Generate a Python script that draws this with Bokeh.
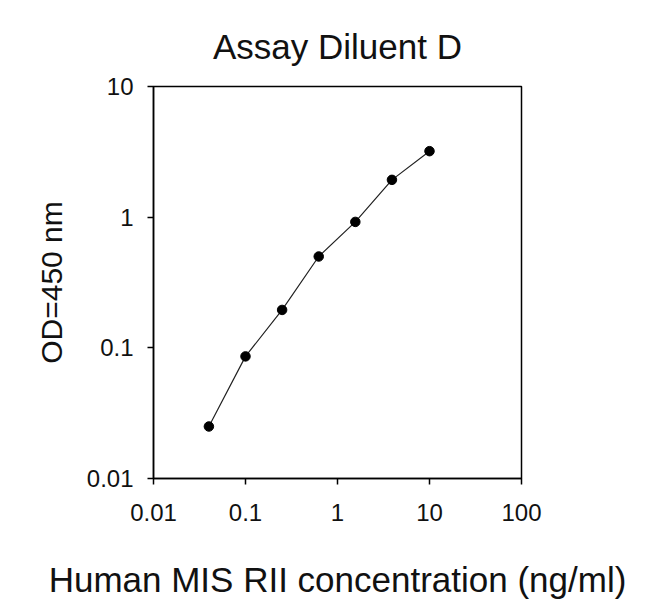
from bokeh.plotting import figure
from bokeh.models import FixedTicker, Range1d
from bokeh.embed import file_html
from bokeh.resources import INLINE

# Data
conc = [0.04, 0.1, 0.25, 0.625, 1.5625, 3.906, 10.0]
od = [0.025, 0.086, 0.195, 0.50, 0.92, 1.93, 3.2]

x_ticks = [0.01, 0.1, 1, 10, 100]
x_tick_labels = ["0.01", "0.1", "1", "10", "100"]
y_ticks = [0.01, 0.1, 1, 10]
y_tick_labels = ["0.01", "0.1", "1", "10"]

title_text = "Assay Diluent D"
x_label = "Human MIS RII concentration (ng/ml)"
y_label = "OD=450 nm"

FONT = "Liberation Sans"

p = figure(
    x_axis_type="log", y_axis_type="log",
    x_range=Range1d(0.01, 100), y_range=Range1d(0.01, 10),
    frame_width=368, frame_height=392,
    output_backend="svg", toolbar_location=None,
    title=title_text,
)
p.min_border_left = 153
p.min_border_right = 112
p.min_border_top = 86
p.min_border_bottom = 122

p.title.align = "center"
p.title.vertical_align = "top"
p.title.text_font = FONT
p.title.text_font_size = "35px"
p.title.text_font_style = "normal"
p.title.text_color = "#111111"
p.title.standoff = 38

p.grid.visible = False
p.outline_line_color = "black"
p.outline_line_width = 1.5
p.background_fill_color = "white"
p.border_fill_color = "white"

for ax, ticks, labels in ((p.xaxis[0], x_ticks, x_tick_labels), (p.yaxis[0], y_ticks, y_tick_labels)):
    ax.ticker = FixedTicker(ticks=ticks, minor_ticks=[])
    ax.major_label_overrides = {t: l for t, l in zip(ticks, labels)}
    ax.axis_line_color = "black"
    ax.axis_line_width = 1.5
    ax.major_tick_line_color = "black"
    ax.major_tick_line_width = 1.5
    ax.major_tick_in = 0
    ax.major_tick_out = 6
    ax.minor_tick_line_color = None
    ax.major_label_text_font = FONT
    ax.major_label_text_font_size = "24px"
    ax.major_label_text_color = "#111111"
    ax.axis_label_text_font = FONT
    ax.axis_label_text_font_style = "normal"
    ax.axis_label_text_color = "#111111"

p.xaxis.axis_label = x_label
p.xaxis.axis_label_text_font_size = "35px"
p.xaxis.major_label_standoff = 19
p.xaxis.axis_label_standoff = 36

p.yaxis.axis_label = y_label
p.yaxis.axis_label_text_font_size = "30px"
p.yaxis.major_label_standoff = 14
p.yaxis.axis_label_standoff = 16

p.line(conc, od, line_color="#222222", line_width=1.2)
p.scatter(conc, od, marker="circle", size=9.5, fill_color="black", line_color="black")

open("out.html", "w").write(file_html(p, INLINE))
